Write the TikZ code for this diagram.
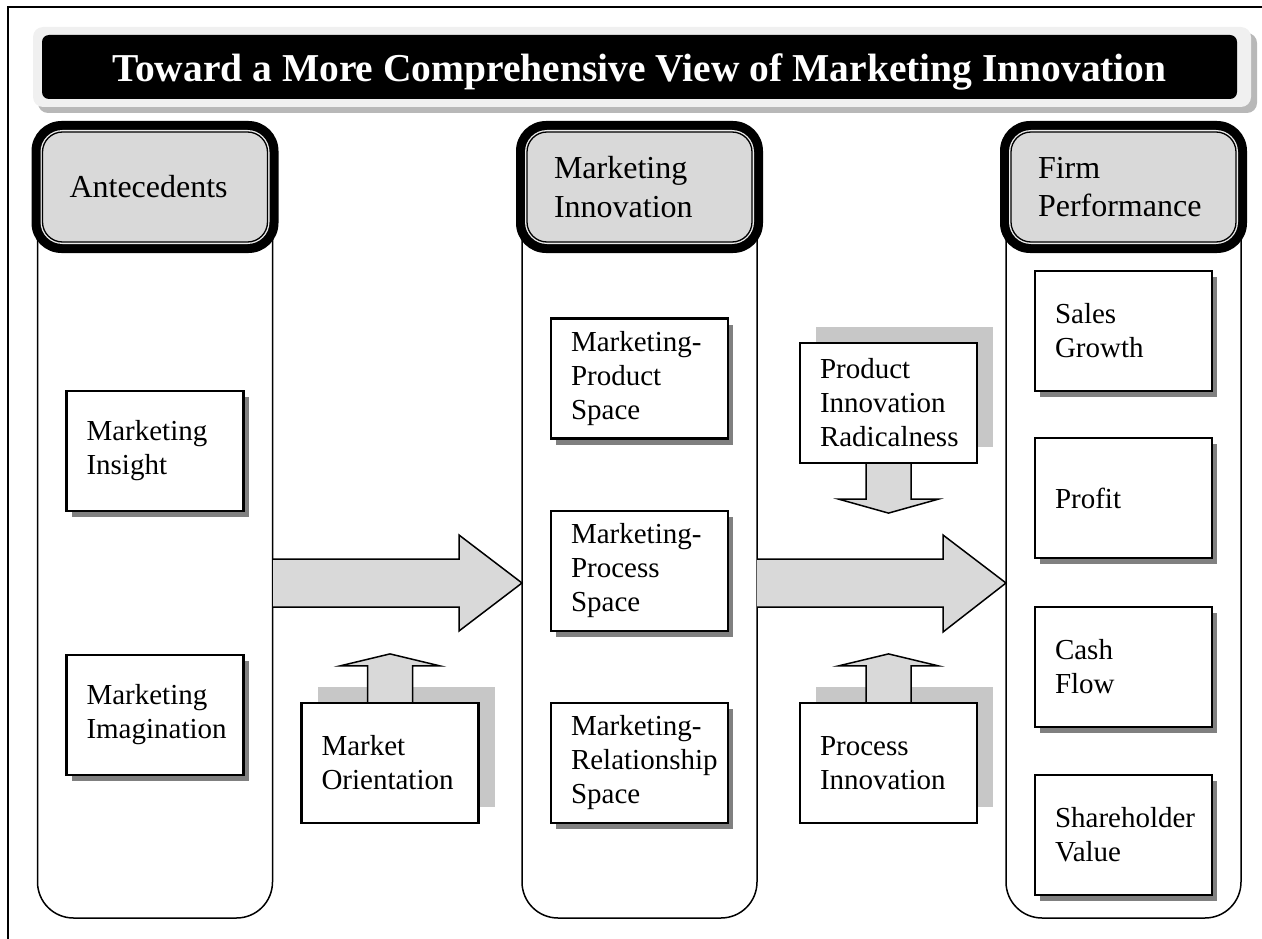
\documentclass[tikz,border=0pt]{standalone}
\usepackage{fontspec}
\setmainfont{Liberation Serif}
\usetikzlibrary{shadows}
\begin{document}
\begin{tikzpicture}[x=1pt,y=-1pt,
  bodyfont/.style={font=\fontsize{29}{34}\selectfont},
  hdrfont/.style={font=\fontsize{32}{38.5}\selectfont},
  colbox/.style={draw=black,line width=1.5pt,fill=white,rounded corners=36pt,minimum width=235pt,minimum height=768pt,inner sep=0pt},
  hdrouter/.style={fill=black,rounded corners=30pt,minimum width=247pt,minimum height=132pt,inner sep=0pt},
  hdrmid/.style={fill=black!8,rounded corners=22pt,minimum width=229pt,minimum height=114pt,inner sep=0pt},
  hdrin/.style={draw=black,line width=1.3pt,fill=black!15,rounded corners=20pt,minimum width=225pt,minimum height=110pt,inner sep=0pt,text width=171pt,align=left,hdrfont},
  itembox/.style={draw=black,line width=2.2pt,fill=white,minimum width=177pt,minimum height=120pt,inner sep=0pt,text width=137pt,align=left,bodyfont},
  shadowed/.style={drop shadow={shadow xshift=5pt,shadow yshift=-6pt,fill=black!50,opacity=1}},
  blocked/.style={general shadow={shadow xshift=16pt,shadow yshift=16pt,fill=black!22}},
  bigarrow/.style={draw=black,line width=1.5pt,fill=black!15,line join=miter},
  smallarrow/.style={draw=black,line width=1.5pt,fill=black!15,line join=miter},
]
\useasboundingbox (0,0) rectangle (1262,939);
\draw[line width=1.5pt] (8,939) -- (8,7) -- (1262,7);

% title bar
\fill[black!28, rounded corners=10pt] (38,33) rectangle (1257,113);
\fill[black!6, rounded corners=10pt] (33,27) rectangle (1251,107);
\node[fill=black, rounded corners=7pt, minimum width=1195pt, minimum height=64pt, inner sep=0pt] (tbar) at (639.5,67) {};
\node[anchor=base, text=white, font=\bfseries\fontsize{39.5}{46}\selectfont, inner sep=0pt] (ttext) at (639.5,82) {Toward a More Comprehensive View of Marketing Innovation};

% columns
\node[colbox] (cA) at (155,534) {};
\node[colbox] (cB) at (639.5,534) {};
\node[colbox] (cC) at (1123.5,534) {};

% headers
\node[hdrouter] (hAo) at (155,187) {};
\node[hdrmid] (hAm) at (hAo) {};
\node[hdrin] (hA) at (hAo) {Antecedents};
\node[hdrouter] (hBo) at (639.5,187) {};
\node[hdrmid] (hBm) at (hBo) {};
\node[hdrin] (hB) at (hBo) {Marketing\\Innovation};
\node[hdrouter] (hCo) at (1123.5,187) {};
\node[hdrmid] (hCm) at (hCo) {};
\node[hdrin] (hC) at (hCo) {Firm\\Performance};

% big arrows
\draw[bigarrow] (273,559) -- (459,559) -- (459,535) -- (522,583) -- (459,631) -- (459,607) -- (273,607);
\draw[bigarrow] (757,559) -- (943,559) -- (943,535) -- (1006,583) -- (943,632) -- (943,607) -- (757,607);

% items
\node[itembox,shadowed] (mi) at (155,451) {Marketing\\Insight};
\node[itembox,shadowed] (mim) at (155,715) {Marketing\\Imagination};
\node[itembox,shadowed] (mp) at (639.5,378.5) {Marketing-\\Product\\Space};
\node[itembox,shadowed] (mpr) at (639.5,571) {Marketing-\\Process\\Space};
\node[itembox,shadowed] (mr) at (639.5,763) {Marketing-\\Relationship\\Space};
\node[itembox,shadowed] (sg) at (1123.5,331) {Sales\\Growth};
\node[itembox,shadowed] (pf) at (1123.5,498) {Profit};
\node[itembox,shadowed] (cf) at (1123.5,667) {Cash\\Flow};
\node[itembox,shadowed] (sv) at (1123.5,835) {Shareholder\\Value};

% side influences
\node[itembox,blocked] (mo) at (390,763) {Market\\Orientation};
\node[itembox,blocked] (pir) at (888.5,403) {Product\\Innovation\\Radicalness};
\node[itembox,blocked] (pin) at (888.5,763) {Process\\Innovation};

\draw[smallarrow] ([xshift=-22.5pt]mo.north) -- ++(0,-36) -- ++(-27.5,0) -- ++(50,-12) -- ++(50,12) -- ++(-27.5,0) -- ++(0,36);
\draw[smallarrow] ([xshift=-22.5pt]pin.north) -- ++(0,-36) -- ++(-27.5,0) -- ++(50,-12) -- ++(50,12) -- ++(-27.5,0) -- ++(0,36);
\draw[smallarrow] ([xshift=-22.5pt]pir.south) -- ++(0,35) -- ++(-27.5,0) -- ++(50,14) -- ++(50,-14) -- ++(-27.5,0) -- ++(0,-35);
\end{tikzpicture}
\end{document}
